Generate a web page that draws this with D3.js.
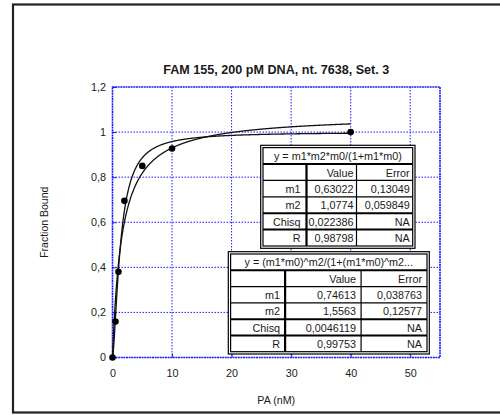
<!DOCTYPE html>
<html>
<head>
<meta charset="utf-8">
<script src="https://cdn.jsdelivr.net/npm/d3@7"></script>
<style>
  html, body { margin: 0; padding: 0; background: #fff; }
  svg { display: block; font-family: "Liberation Sans", Arial, sans-serif; }
</style>
</head>
<body>
<svg id="chart" width="500" height="415"></svg>
<script>
// Binding measurements: PA concentration (nM) vs fraction bound
const paConc = [0, 0.5, 1, 2, 5, 10, 40];
const fractionBound = [0, 0.16, 0.38, 0.695, 0.85, 0.927, 1.0];

const xTicks = [0, 10, 20, 30, 40, 50];
const yTicks = [0, 0.2, 0.4, 0.6, 0.8, 1.0, 1.2];

// Fit 1: single-site binding  y = m1*m2*m0/(1+m1*m0)
const fit1Title = "y = m1*m2*m0/(1+m1*m0)";
const fit1Names = ["m1", "m2", "Chisq", "R"];
const fit1Values = [0.63022, 1.0774, 0.022386, 0.98798];
const fit1Errors = [0.13049, 0.059849, "NA", "NA"];

// Fit 2: Hill equation  y = (m1*m0)^m2/(1+(m1*m0)^m2)
const fit2Title = "y = (m1*m0)^m2/(1+(m1*m0)^m2...";
const fit2Names = ["m1", "m2", "Chisq", "R"];
const fit2Values = [0.74613, 1.5563, 0.0046119, 0.99753];
const fit2Errors = [0.038763, 0.12577, "NA", "NA"];

const svg = d3.select("#chart");
const blue = "#1a1aff";
const ink = "#1a1a1a";

// outer frame
svg.append("rect")
  .attr("x", 13).attr("y", 4.5).attr("width", 500).attr("height", 408)
  .attr("fill", "none").attr("stroke", "#222").attr("stroke-width", 2.2);

const plot = { left: 112.5, right: 440, top: 87, bottom: 357.5 };
const x = d3.scaleLinear().domain([0, 55]).range([plot.left, plot.right]);
const y = d3.scaleLinear().domain([0, 1.2]).range([plot.bottom, plot.top]);

const fmt = v => typeof v === "number" ? String(v).replace(".", ",") : v;

// title
svg.append("text")
  .attr("x", (plot.left + plot.right) / 2).attr("y", 74)
  .attr("text-anchor", "middle").attr("font-size", 12.6).attr("font-weight", "bold")
  .attr("fill", ink)
  .text("FAM 155, 200 pM DNA, nt. 7638, Set. 3");

// grid lines
const grid = svg.append("g");
grid.selectAll("line.vx").data(xTicks.filter(d => d > 0)).join("line")
  .attr("x1", d => x(d)).attr("x2", d => x(d))
  .attr("y1", plot.top).attr("y2", plot.bottom)
  .attr("stroke", blue).attr("stroke-width", 1).attr("stroke-dasharray", "1.5,1.5");
grid.selectAll("line.hy").data(yTicks.filter(d => d > 0 && d < 1.2)).join("line")
  .attr("x1", plot.left).attr("x2", plot.right)
  .attr("y1", d => y(d)).attr("y2", d => y(d))
  .attr("stroke", blue).attr("stroke-width", 1).attr("stroke-dasharray", "1.5,1.5");

// plot border
svg.append("rect")
  .attr("x", plot.left).attr("y", plot.top)
  .attr("width", plot.right - plot.left).attr("height", plot.bottom - plot.top)
  .attr("fill", "none").attr("stroke", blue).attr("stroke-width", 1.6)
  .attr("stroke-dasharray", "2,0.6");

// axes with inward ticks
const xAxis = d3.axisBottom(x).tickValues(xTicks).tickSize(-4).tickPadding(12)
  .tickFormat(d => fmt(d));
const yAxis = d3.axisLeft(y).tickValues(yTicks).tickSize(-4).tickPadding(6.5)
  .tickFormat(d => fmt(+d.toFixed(1)));

const gx = svg.append("g").attr("transform", `translate(0,${plot.bottom})`).call(xAxis);
const gy = svg.append("g").attr("transform", `translate(${plot.left},0)`).call(yAxis);
[gx, gy].forEach(g => {
  g.select(".domain").remove();
  g.selectAll(".tick line").attr("stroke", blue);
  g.selectAll(".tick text").attr("font-size", 10.8).attr("fill", ink)
    .attr("font-family", "Liberation Sans, Arial, sans-serif");
});

// axis titles
svg.append("text")
  .attr("x", (plot.left + plot.right) / 2).attr("y", 404)
  .attr("text-anchor", "middle").attr("font-size", 10.7).attr("fill", ink)
  .text("PA (nM)");
svg.append("text")
  .attr("transform", `translate(48,${(plot.top + plot.bottom) / 2}) rotate(-90)`)
  .attr("text-anchor", "middle").attr("font-size", 10.5).attr("fill", ink)
  .text("Fraction Bound");

// fitted curves from the fit parameters
const m0 = d3.range(0, 40.001, 0.05);
const curve1 = m0.map(v => [v, fit1Values[0] * fit1Values[1] * v / (1 + fit1Values[0] * v)]);
const curve2 = m0.map(v => {
  const t = Math.pow(fit2Values[0] * v, fit2Values[1]);
  return [v, t / (1 + t)];
});
const line = d3.line().x(d => x(d[0])).y(d => y(d[1]));
[curve1, curve2].forEach(c => {
  svg.append("path").datum(c).attr("d", line)
    .attr("fill", "none").attr("stroke", "#111").attr("stroke-width", 1.3);
});

// data points
svg.selectAll("circle.pt").data(paConc).join("circle")
  .attr("cx", d => x(d)).attr("cy", (d, i) => y(fractionBound[i]))
  .attr("r", 3.3).attr("fill", "#000");

// results tables
function drawTable(box, colW, title, names, values, errors, namePad, valPad) {
  const rowH = (box.h - 4.6) / 6;
  const g = svg.append("g");
  g.append("rect").attr("x", box.x).attr("y", box.y).attr("width", box.w).attr("height", box.h)
    .attr("fill", "#fff").attr("stroke", "#000").attr("stroke-width", 1.2);
  const ix = box.x + 2.3, iy = box.y + 2.3, iw = box.w - 4.6, ih = box.h - 4.6;
  g.append("rect").attr("x", ix).attr("y", iy).attr("width", iw).attr("height", ih)
    .attr("fill", "#fff").attr("stroke", "#000").attr("stroke-width", 1.2);
  const c1 = ix + colW[0], c2 = c1 + colW[1];
  const hLine = (r, w) => g.append("line")
    .attr("x1", ix).attr("x2", ix + iw).attr("y1", iy + r * rowH).attr("y2", iy + r * rowH)
    .attr("stroke", "#000").attr("stroke-width", w);
  hLine(1, 2); hLine(2, 1.2); hLine(3, 1.2); hLine(4, 2); hLine(5, 2);
  g.append("line").attr("x1", c1).attr("x2", c1).attr("y1", iy + rowH).attr("y2", iy + ih)
    .attr("stroke", "#000").attr("stroke-width", 2.2);
  g.append("line").attr("x1", c2).attr("x2", c2).attr("y1", iy + rowH).attr("y2", iy + ih)
    .attr("stroke", "#000").attr("stroke-width", 1.2);
  const txt = (tx, ty, s, anchor) => g.append("text").attr("x", tx).attr("y", ty)
    .attr("text-anchor", anchor).attr("font-size", 10.8).attr("fill", ink).text(s);
  const base = r => iy + r * rowH + rowH / 2 + 4.3;
  txt(ix + iw / 2, base(0), title, "middle");
  txt(c2 - valPad, base(1), "Value", "end");
  txt(ix + iw - valPad, base(1), "Error", "end");
  names.forEach((n, i) => {
    txt(c1 - namePad, base(i + 2), n, "end");
    txt(c2 - valPad, base(i + 2), fmt(values[i]), "end");
    txt(ix + iw - valPad, base(i + 2), fmt(errors[i]), "end");
  });
}

drawTable({ x: 260.7, y: 145.3, w: 154.3, h: 103 }, [43.5, 50], fit1Title,
  fit1Names, fit1Values, fit1Errors, 6, 3);
drawTable({ x: 228.3, y: 251.7, w: 201, h: 102.3 }, [54.5, 76], fit2Title,
  fit2Names, fit2Values, fit2Errors, 5, 5);
</script>
</body>
</html>
